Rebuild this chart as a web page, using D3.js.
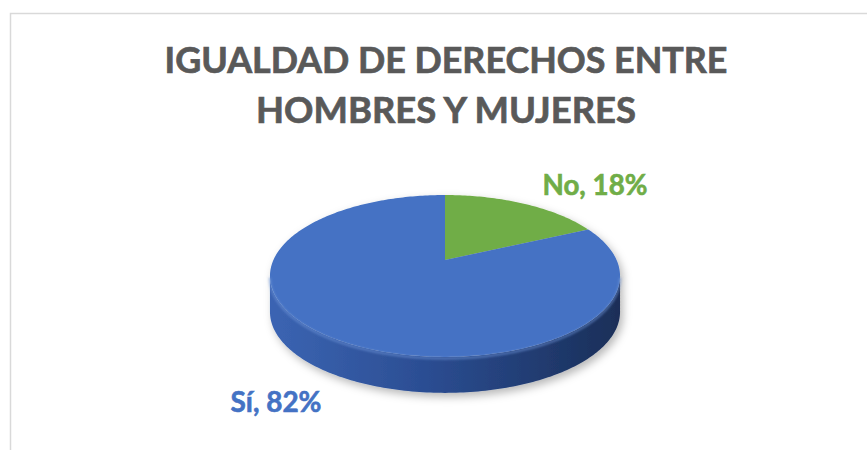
<!DOCTYPE html>
<html>
<head>
<meta charset="utf-8">
<script src="https://cdn.jsdelivr.net/npm/d3@7"></script>
<style>
  body { margin: 0; background: #fff; }
  svg { display: block; }
</style>
</head>
<body>
<div id="chart"></div>
<script>

const titleLines = ["IGUALDAD DE DERECHOS ENTRE", "HOMBRES Y MUJERES"];
const categories = ["No", "Sí"];
const values = [18, 82];
const colors = ["#70ad47", "#4472c4"];

const width = 867;
const height = 450;

const svg = d3.select("#chart").append("svg")
	.attr("width", width)
	.attr("height", height)
	.style("font-family", "Lato, 'Open Sans', sans-serif");

const defs = svg.append("defs");

// chart area border (runs off the right and bottom of the picture)
svg.append("rect")
	.attr("x", 10.5).attr("y", 13.5)
	.attr("width", 900).attr("height", 500)
	.attr("fill", "#fff")
	.attr("stroke", "#d9d9d9")
	.attr("stroke-width", 1.5);

// fit a text to a target width by scaling its font size
function fitText(sel, targetWidth, baseSize) {
	sel.attr("font-size", baseSize);
	const w = sel.node().getComputedTextLength();
	sel.attr("font-size", baseSize * targetWidth / w);
}

const titleWidths = [563, 380];
const titleBase = [73, 123];
titleLines.forEach(function(t, i) {
	const txt = svg.append("text")
		.attr("x", 446)
		.attr("y", titleBase[i])
		.attr("text-anchor", "middle")
		.attr("font-weight", 700)
		.attr("fill", "#595959")
		.attr("stroke", "#595959")
		.attr("stroke-width", 0.7)
		.text(t);
	fitText(txt, titleWidths[i], 34);
});

// 3D pie geometry (perspective-tilted disc)
const cx = 445, cy = 260;   // apex of the pie on screen
const R = 171.6;           // horizontal radius
const Rv = 77.8;           // vertical radius
const k = 0.197;           // perspective strength
const depth = 36;

function proj(a, r, dz) {
	const c = Math.cos(a), s = Math.sin(a);
	const sc = 1 / (1 + k * c * r);
	return [cx + R * r * s * sc, cy - Rv * r * c * sc + (dz || 0)];
}

function arcPoints(a0, a1, r, dz) {
	const pts = [];
	const n = Math.max(2, Math.ceil(Math.abs(a1 - a0) / (Math.PI / 180)));
	for (let i = 0; i <= n; i++) {
		pts.push(proj(a0 + (a1 - a0) * i / n, r, dz));
	}
	return pts;
}

const line = d3.line();

const pie = d3.pie().sort(null).value(function(d) { return d; });
const arcs = pie(values);

// side gradient
const sideGrad = defs.append("linearGradient")
	.attr("id", "sideGrad")
	.attr("gradientUnits", "userSpaceOnUse")
	.attr("x1", cx - R).attr("x2", cx + R)
	.attr("y1", 0).attr("y2", 0);
sideGrad.append("stop").attr("offset", "0%").attr("stop-color", "#3b64b2");
sideGrad.append("stop").attr("offset", "45%").attr("stop-color", "#2b4d92");
sideGrad.append("stop").attr("offset", "100%").attr("stop-color", "#1a2f59");

const shadow = defs.append("filter")
	.attr("id", "shadow")
	.attr("x", "-20%").attr("y", "-20%")
	.attr("width", "140%").attr("height", "150%");
shadow.append("feDropShadow")
	.attr("dx", 3).attr("dy", 4)
	.attr("stdDeviation", 4)
	.attr("flood-color", "#000")
	.attr("flood-opacity", 0.28);

const blur = defs.append("filter").attr("id", "soft");
blur.append("feGaussianBlur").attr("stdDeviation", 1.2);

const g = svg.append("g").attr("filter", "url(#shadow)");

// visible side wall (front half between silhouette points)
const sil0 = Math.acos(-k), sil1 = 2 * Math.PI - Math.acos(-k);
arcs.forEach(function(d, i) {
	const a0 = Math.max(d.startAngle, sil0);
	const a1 = Math.min(d.endAngle, sil1);
	if (a1 <= a0) return;
	const top = arcPoints(a0, a1, 1, 0);
	const bottom = arcPoints(a1, a0, 1, depth);
	g.append("path")
		.attr("d", line(top.concat(bottom)) + "Z")
		.attr("fill", i === 1 ? "url(#sideGrad)" : d3.color(colors[i]).darker(1));
});

// top face slices
arcs.forEach(function(d, i) {
	const pts = [[cx, cy]].concat(arcPoints(d.startAngle, d.endAngle, 1, 0));
	g.append("path")
		.attr("d", line(pts) + "Z")
		.attr("fill", colors[i]);
});

// soft highlight along the front rim (bevel)
svg.append("path")
	.attr("d", line(arcPoints(sil0, sil1, 1, 1.5)))
	.attr("fill", "none")
	.attr("stroke", "#6f95d8")
	.attr("stroke-opacity", 0.55)
	.attr("stroke-width", 2.5)
	.attr("filter", "url(#soft)");

// data labels
const labelPos = [[595, 195], [276, 412]];
const labelWidths = [105, 91];
arcs.forEach(function(d, i) {
	const txt = svg.append("text")
		.attr("x", labelPos[i][0])
		.attr("y", labelPos[i][1])
		.attr("text-anchor", "middle")
		.attr("font-weight", 700)
		.attr("fill", colors[i])
		.attr("stroke", colors[i])
		.attr("stroke-width", 0.6)
		.text(categories[i] + ", " + d3.format(".0%")(d.data / 100));
	fitText(txt, labelWidths[i], 26);
});

</script>
</body>
</html>
